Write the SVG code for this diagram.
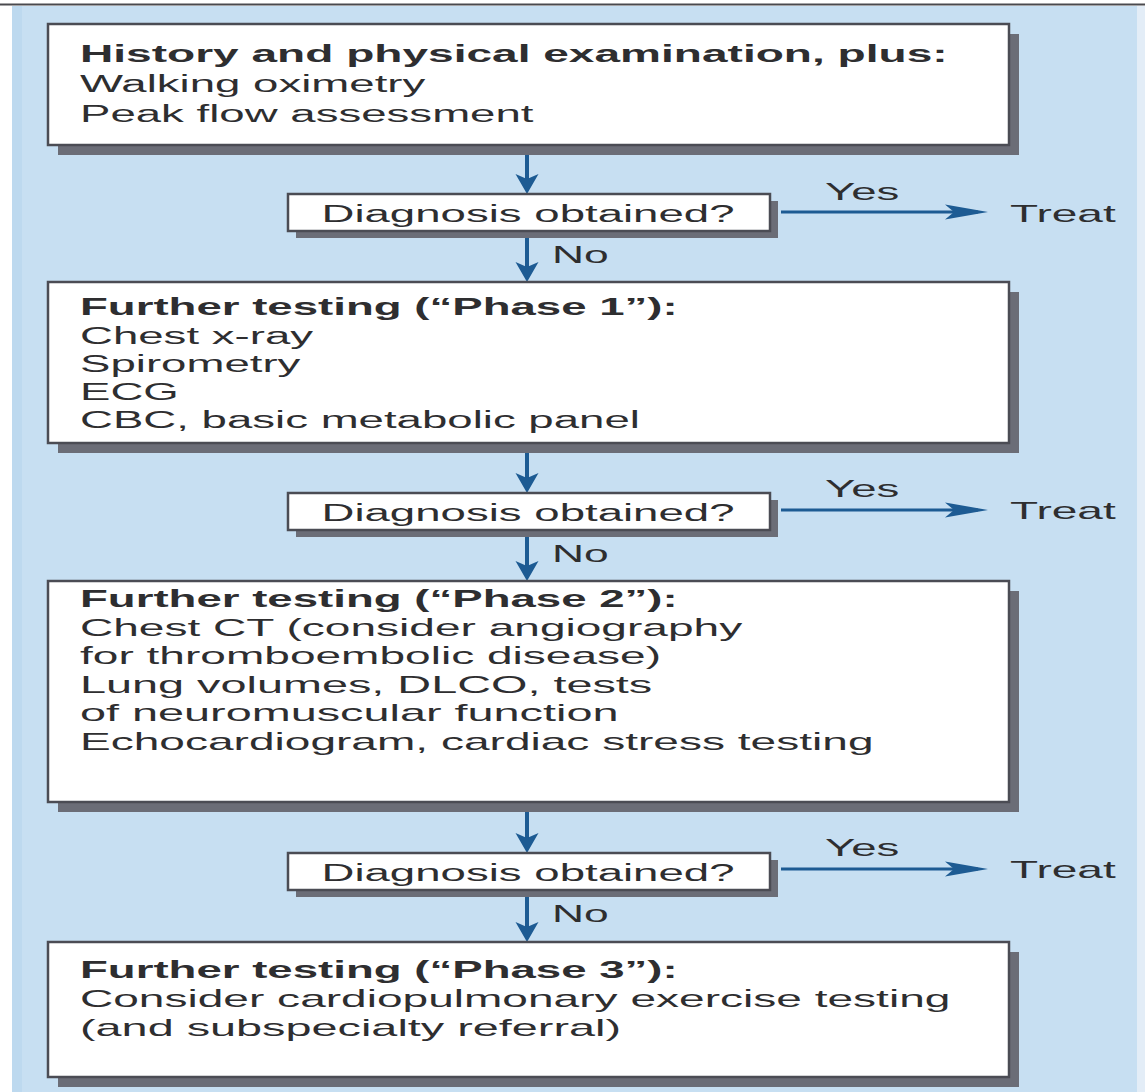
<svg xmlns="http://www.w3.org/2000/svg" width="1145" height="1092" viewBox="0 0 1145 1092">
  <style>
    .t { font-family: "Liberation Sans", Arial, sans-serif; font-size: 24px; fill: #2e2e30; }
    .b { font-weight: bold; }
    .box { fill: #ffffff; stroke: #4b4c54; stroke-width: 2.5; }
    .shadow { fill: #6b6d77; }
    .v { stroke: #1d5b93; stroke-width: 4; fill: none; }
    .h { stroke: #1d5b93; stroke-width: 3; fill: none; }
  </style>
  <defs>
    <marker id="vhead" viewBox="-25 -15 40 30" markerWidth="40" markerHeight="30" refX="0" refY="0" orient="auto" markerUnits="userSpaceOnUse">
      <path d="M10,0 L-10,-11.5 L-5,0 L-10,11.5 Z" fill="#1d5b93"/>
    </marker>
    <marker id="hhead" viewBox="-40 -10 55 20" markerWidth="55" markerHeight="20" refX="0" refY="0" orient="auto" markerUnits="userSpaceOnUse">
      <path d="M10,0 L-33,-7.5 L-24,0 L-33,7.5 Z" fill="#1d5b93"/>
    </marker>
  </defs>

  <!-- background -->
  <rect x="0" y="0" width="1145" height="1092" fill="#ffffff"/>
  <rect x="12" y="6" width="1125" height="1086" fill="#c7dff2"/>
  <rect x="12" y="6" width="10" height="1086" fill="#bdd9ef"/>
  <rect x="1137" y="6" width="8" height="1086" fill="#e3edf7"/>
  <line x1="0" y1="4.5" x2="1145" y2="4.5" stroke="#4a4a4f" stroke-width="2"/>

  <!-- connectors -->
  <g id="connectors">
    <line class="v" x1="527" y1="145" x2="527" y2="184" marker-end="url(#vhead)"/>
    <line class="v" x1="527" y1="231" x2="527" y2="272" marker-end="url(#vhead)"/>
    <line class="v" x1="527" y1="443" x2="527" y2="483" marker-end="url(#vhead)"/>
    <line class="v" x1="527" y1="530" x2="527" y2="571" marker-end="url(#vhead)"/>
    <line class="v" x1="527" y1="802" x2="527" y2="843" marker-end="url(#vhead)"/>
    <line class="v" x1="527" y1="890" x2="527" y2="932" marker-end="url(#vhead)"/>
    <line class="h" x1="781" y1="212" x2="978" y2="212" marker-end="url(#hhead)"/>
    <line class="h" x1="781" y1="510" x2="978" y2="510" marker-end="url(#hhead)"/>
    <line class="h" x1="781" y1="869" x2="978" y2="869" marker-end="url(#hhead)"/>
    <text class="t" transform="matrix(1.85 0 0 1 552 263)">No</text>
    <text class="t" transform="matrix(1.85 0 0 1 552 562)">No</text>
    <text class="t" transform="matrix(1.85 0 0 1 552 922)">No</text>
    <text class="t" transform="matrix(1.9 0 0 1 825 200)">Yes</text>
    <text class="t" transform="matrix(1.9 0 0 1 825 497)">Yes</text>
    <text class="t" transform="matrix(1.9 0 0 1 825 856)">Yes</text>
  </g>

  <g id="node-history">
    <rect class="shadow" x="58" y="34" width="961" height="121"/>
    <rect class="box" x="48" y="24" width="961" height="121"/>
    <text class="t b" transform="matrix(1.92 0 0 1 80 62)">History and physical examination, plus:</text>
    <text class="t" transform="matrix(1.9 0 0 1 80 92)">Walking oximetry</text>
    <text class="t" transform="matrix(1.9 0 0 1 80 122)">Peak flow assessment</text>
  </g>

  <g id="node-diag1">
    <rect class="shadow" x="296" y="201" width="482" height="37"/>
    <rect class="box" x="288" y="194" width="482" height="37"/>
    <text class="t" text-anchor="middle" transform="matrix(1.9 0 0 1 528 222)">Diagnosis obtained?</text>
  </g>
  <g id="node-treat1">
    <text class="t" transform="matrix(1.92 0 0 1 1010 222)">Treat</text>
  </g>

  <g id="node-phase1">
    <rect class="shadow" x="58" y="292" width="961" height="161"/>
    <rect class="box" x="48" y="282" width="961" height="161"/>
    <text class="t b" transform="matrix(1.9 0 0 1 80 315)">Further testing (“Phase 1”):</text>
    <text class="t" transform="matrix(1.9 0 0 1 80 344)">Chest x-ray</text>
    <text class="t" transform="matrix(1.9 0 0 1 80 372)">Spirometry</text>
    <text class="t" transform="matrix(1.9 0 0 1 80 400)">ECG</text>
    <text class="t" transform="matrix(1.9 0 0 1 80 428)">CBC, basic metabolic panel</text>
  </g>

  <g id="node-diag2">
    <rect class="shadow" x="296" y="500" width="482" height="37"/>
    <rect class="box" x="288" y="493" width="482" height="37"/>
    <text class="t" text-anchor="middle" transform="matrix(1.9 0 0 1 528 521)">Diagnosis obtained?</text>
  </g>
  <g id="node-treat2">
    <text class="t" transform="matrix(1.92 0 0 1 1010 519)">Treat</text>
  </g>

  <g id="node-phase2">
    <rect class="shadow" x="58" y="591" width="961" height="221"/>
    <rect class="box" x="48" y="581" width="961" height="221"/>
    <text class="t b" transform="matrix(1.9 0 0 1 80 607)">Further testing (“Phase 2”):</text>
    <text class="t" transform="matrix(1.92 0 0 1 80 636)">Chest CT (consider angiography</text>
    <text class="t" transform="matrix(1.92 0 0 1 80 664)">for thromboembolic disease)</text>
    <text class="t" transform="matrix(1.95 0 0 1 80 693)">Lung volumes, DLCO, tests</text>
    <text class="t" transform="matrix(1.95 0 0 1 80 721)">of neuromuscular function</text>
    <text class="t" transform="matrix(1.92 0 0 1 80 750)">Echocardiogram, cardiac stress testing</text>
  </g>

  <g id="node-diag3">
    <rect class="shadow" x="296" y="860" width="482" height="37"/>
    <rect class="box" x="288" y="853" width="482" height="37"/>
    <text class="t" text-anchor="middle" transform="matrix(1.9 0 0 1 528 881)">Diagnosis obtained?</text>
  </g>
  <g id="node-treat3">
    <text class="t" transform="matrix(1.92 0 0 1 1010 878)">Treat</text>
  </g>

  <g id="node-phase3">
    <rect class="shadow" x="58" y="952" width="961" height="135"/>
    <rect class="box" x="48" y="942" width="961" height="135"/>
    <text class="t b" transform="matrix(1.9 0 0 1 80 978)">Further testing (“Phase 3”):</text>
    <text class="t" transform="matrix(1.92 0 0 1 80 1007)">Consider cardiopulmonary exercise testing</text>
    <text class="t" transform="matrix(1.95 0 0 1 80 1036)">(and subspecialty referral)</text>
  </g>
</svg>
